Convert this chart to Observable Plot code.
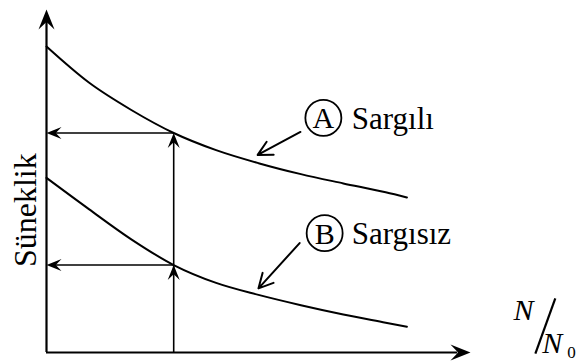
<!DOCTYPE html>
<html>
<head>
<meta charset="utf-8">
<script src="https://cdn.jsdelivr.net/npm/d3@7"></script>
<script src="https://cdn.jsdelivr.net/npm/@observablehq/plot@0.6"></script>
<style>
  html, body { margin: 0; padding: 0; background: white; }
  svg, svg text { font-family: "Liberation Serif", "Times New Roman", Times, serif !important; }
</style>
</head>
<body>
<div id="chart"></div>
<script>
// N/N0 values (relative units along the x axis)
const ratio = [0, 1, 2, 3, 4, 5, 6, 7, 8, 8.5];
// Süneklik (ductility), curve A: Sargılı
const sargili = [8.92, 7.87, 7.07, 6.40, 5.90, 5.52, 5.20, 4.93, 4.67, 4.52];
// Süneklik, curve B: Sargısız
const sargisiz = [5.09, 4.18, 3.30, 2.55, 2.03, 1.68, 1.38, 1.11, 0.87, 0.75];
// the N/N0 value
const readIndex = 3;
// series labels
const seriesLetters = ["A", "B"];
const seriesNames = ["Sargılı", "Sargısız"];
const yLabel = "Süneklik";

const FONT = "Liberation Serif";

const curveA = ratio.map((x, i) => ({x, y: sargili[i]}));
const curveB = ratio.map((x, i) => ({x, y: sargisiz[i]}));
const xr = ratio[readIndex];
const readVals = [sargili[readIndex], sargisiz[readIndex]];

// filled notched arrowhead symbol, tip at the origin, pointing along (dx, dy)
function head(dx, dy, L, W) {
  return {
    draw(ctx) {
      const px = -dy, py = dx;
      const bx = -L * dx, by = -L * dy;
      ctx.moveTo(0, 0);
      ctx.lineTo(bx + W * px, by + W * py);
      ctx.lineTo(-0.62 * L * dx, -0.62 * L * dy);
      ctx.lineTo(bx - W * px, by - W * py);
      ctx.closePath();
    }
  };
}

// label anchor points (in data units)
const labelPos = [
  {cx: 6.53, cy: 6.84, tx: 7.2, ax1: 5.99, ay1: 6.43, ax2: 4.98, ay2: 5.76},
  {cx: 6.56, cy: 3.48, tx: 7.2, ax1: 5.97, ay1: 3.19, ax2: 5.0, ay2: 1.87}
];
const labels = labelPos.map((d, i) => ({...d, letter: seriesLetters[i], name: seriesNames[i]}));

const T = {fontFamily: FONT, fill: "black"};

const plot = Plot.plot({
  width: 576,
  height: 364,
  marginLeft: 46,
  marginRight: 106,
  marginTop: 9,
  marginBottom: 12,
  x: {domain: [0, 10], axis: null},
  y: {domain: [0, 10], axis: null},
  style: {background: "white", color: "black", overflow: "visible"},
  marks: [
    // axes
    Plot.ruleX([0], {y1: 0, y2: 9.7, stroke: "black", strokeWidth: 2.2}),
    Plot.ruleY([0], {x1: 0, x2: 9.7, stroke: "black", strokeWidth: 2.2}),
    Plot.dot([{x: 0, y: 10}], {x: "x", y: "y", symbol: head(0, -1, 20, 8), fill: "black", stroke: "none"}),
    Plot.dot([{x: 10, y: 0}], {x: "x", y: "y", symbol: head(1, 0, 20, 8), fill: "black", stroke: "none"}),
    // curves
    Plot.line(curveA, {x: "x", y: "y", curve: "monotone-x", stroke: "black", strokeWidth: 2}),
    Plot.line(curveB, {x: "x", y: "y", curve: "monotone-x", stroke: "black", strokeWidth: 2}),
    // read-off guide lines
    Plot.ruleX([xr], {y1: 0, y2: readVals[0] - 0.2, stroke: "black", strokeWidth: 1.6}),
    Plot.ruleY(readVals, {x1: 0.2, x2: xr, y: d => d, stroke: "black", strokeWidth: 1.6}),
    Plot.dot(readVals, {x: () => xr, y: d => d, symbol: head(0, -1, 15, 6), fill: "black", stroke: "none"}),
    Plot.dot(readVals, {x: () => 0, y: d => d, symbol: head(-1, 0, 15, 6), fill: "black", stroke: "none"}),
    // series labels
    Plot.arrow(labels, {x1: "ax1", y1: "ay1", x2: "ax2", y2: "ay2", stroke: "black", strokeWidth: 2, headLength: 12, headAngle: 55}),
    Plot.dot(labels, {x: "cx", y: "cy", r: 18, stroke: "black", strokeWidth: 1.8, fill: "white"}),
    Plot.text(labels, {...T, x: "cx", y: "cy", text: "letter", fontSize: 30, dy: 1}),
    Plot.text(labels, {...T, x: "tx", y: "cy", text: "name", fontSize: 31, textAnchor: "start", dy: 1}),
    // y label
    Plot.text([yLabel], {...T, x: -0.5, y: 4.15, text: d => d, rotate: -90, fontSize: 32}),
    // x label N/N0 (solidus drawn as a stroke)
    Plot.text(["N"], {...T, x: 11.25, y: 1.22, text: d => d, fontSize: 30, fontStyle: "italic"}),
    Plot.link([0], {x1: () => 12.0, y1: () => 1.58, x2: () => 11.53, y2: () => -0.03, stroke: "black", strokeWidth: 2.2}),
    Plot.text(["N"], {...T, x: 11.93, y: 0.26, text: d => d, fontSize: 30, fontStyle: "italic"}),
    Plot.text(["0"], {...T, x: 12.38, y: -0.01, text: d => d, fontSize: 17})
  ]
});
document.getElementById("chart").appendChild(plot);
</script>
</body>
</html>
